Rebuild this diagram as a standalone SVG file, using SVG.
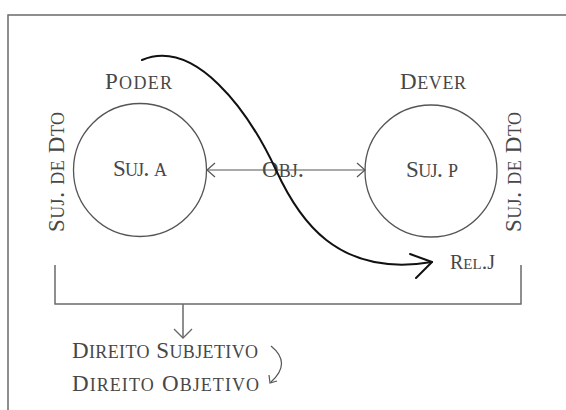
<svg xmlns="http://www.w3.org/2000/svg" width="566" height="410" viewBox="0 0 566 410">
  <defs>
    <style>
      .t { font-family: "Liberation Serif", "Times New Roman", serif; font-variant: small-caps; font-size: 23px; fill: #474747; }
      .s { font-size: 25px; }
      .frame { fill: none; stroke: #6a6a6a; stroke-width: 1.5; }
      .node { fill: none; stroke: #555; stroke-width: 1.3; }
      .thin { fill: none; stroke: #555; stroke-width: 1.2; }
      .bold { fill: none; stroke: #111; stroke-width: 2; stroke-linecap: round; stroke-linejoin: round; }
    </style>
    <marker id="open" viewBox="0 0 10 16" refX="9" refY="8" markerWidth="10" markerHeight="16" markerUnits="userSpaceOnUse" orient="auto-start-reverse">
      <polyline points="1,1 9,8 1,15" fill="none" stroke="#555" stroke-width="1.2"/>
    </marker>
    <marker id="open2" viewBox="0 0 12 20" refX="10" refY="10" markerWidth="12" markerHeight="20" markerUnits="userSpaceOnUse" orient="auto">
      <polyline points="1,1 10,10 1,19" fill="none" stroke="#666" stroke-width="1.3"/>
    </marker>
  </defs>
  <rect width="566" height="410" fill="#ffffff"/>

  <g id="frame">
    <polyline class="frame" points="8,410 8,15 566,15"/>
  </g>

  <g id="node-suj-a">
    <circle class="node" cx="140" cy="170" r="66.5"/>
    <text class="t" x="113" y="176" textLength="54" lengthAdjust="spacing">S<tspan class="s">uj. a</tspan></text>
  </g>
  <g id="node-suj-p">
    <circle class="node" cx="431" cy="171" r="66"/>
    <text class="t" x="406" y="177" textLength="52" lengthAdjust="spacing">S<tspan class="s">uj. p</tspan></text>
  </g>
  <g id="label-poder">
    <text class="t" x="105" y="89" textLength="67" lengthAdjust="spacing">P<tspan class="s">oder</tspan></text>
  </g>
  <g id="label-dever">
    <text class="t" x="400" y="89" textLength="66" lengthAdjust="spacing">D<tspan class="s">ever</tspan></text>
  </g>
  <g id="label-suj-dto-left">
    <text class="t" transform="translate(64,232) rotate(-90)" x="0" y="0" textLength="120" lengthAdjust="spacing">S<tspan class="s">uj. de </tspan>D<tspan class="s">to</tspan></text>
  </g>
  <g id="label-suj-dto-right">
    <text class="t" transform="translate(521,232) rotate(-90)" x="0" y="0" textLength="120" lengthAdjust="spacing">S<tspan class="s">uj. de </tspan>D<tspan class="s">to</tspan></text>
  </g>
  <g id="label-obj">
    <text class="t" x="262" y="177">O<tspan class="s">bj.</tspan></text>
  </g>
  <g id="label-relj">
    <text class="t" x="450" y="269" style="font-size:20px">R<tspan style="font-size:22px">el.</tspan>J</text>
  </g>
  <g id="label-direito">
    <text class="t" x="72" y="358" textLength="186" lengthAdjust="spacing">D<tspan class="s">ireito </tspan>S<tspan class="s">ubjetivo</tspan></text>
    <text class="t" x="72" y="391" textLength="187" lengthAdjust="spacing">D<tspan class="s">ireito </tspan>O<tspan class="s">bjetivo</tspan></text>
  </g>

  <g id="connectors">
    <line class="thin" x1="207" y1="170" x2="365" y2="170" marker-start="url(#open)" marker-end="url(#open)"/>
    <path class="bold" d="M142,60 C195,38 248,110 276,170 C298,218 336,278 432,262"/>
    <polyline class="bold" points="410,254 432,262 416,278"/>
    <polyline class="frame" points="55,265 55,304 521,304 521,265" stroke-width="1.3"/>
    <line class="frame" x1="183" y1="304" x2="183" y2="338" stroke-width="1.3" marker-end="url(#open2)"/>
    <path class="thin" d="M271,346 Q292,363 271,382" stroke="#777"/>
    <polyline class="thin" points="269,375 270,383 277,381" stroke="#777"/>
  </g>
</svg>
